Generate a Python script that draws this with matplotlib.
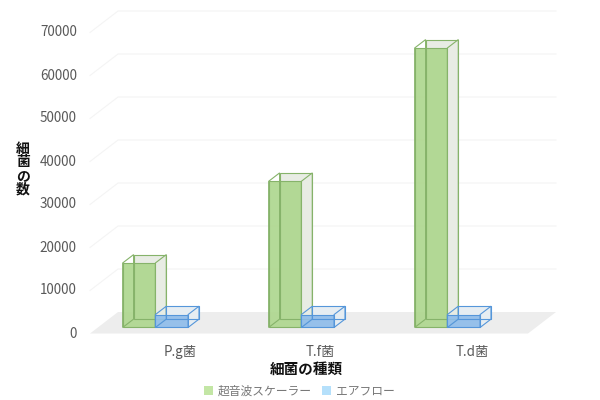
#!/usr/bin/env python3
"""Oblique 3D-look grouped bars: bacteria counts by species"""

import matplotlib
matplotlib.use("Agg")
import matplotlib.pyplot as plt
from matplotlib.patches import Patch, Polygon

plt.rcParams['font.family'] = ['Noto Sans CJK JP', 'DejaVu Sans']

# Data
CATEGORIES = ["P.g菌", "T.f菌", "T.d菌"]
SCALER_VALUES = [15000, 34000, 65000]
AIRFLOW_VALUES = [3000, 3000, 3000]
Y_TICKS = [0, 10000, 20000, 30000, 40000, 50000, 60000, 70000]
SERIES_NAMES = ["超音波スケーラー", "エアフロー"]
X_TITLE = "細菌の種類"
Y_TITLE = "細\n菌\nの\n数"

# Oblique projection: how far one unit of depth moves a point
DEPTH_X = 0.192     # in category units
DEPTH_Y = 5000      # in value units
BAR_Z = (0.28, 0.67)
BAR_START = 0.17
BAR_WIDTH = 0.224
LABEL_POS = [0.62, 1.58, 2.62]

# Colors
GREEN_FRONT = '#aed78f'
GREEN_EDGE = '#86b36a'
GREEN_SIDE = '#e8ece4'
BLUE_FRONT = '#8fbdea'
BLUE_EDGE = '#5596da'
BLUE_SIDE = '#e6edf2'
GRID_COLOR = '#f4f4f4'
FLOOR_COLOR = '#ededed'
TEXT_COLOR = '#595959'


def project(x, value, z):
    return (x + DEPTH_X * z, value + DEPTH_Y * z)


def draw_face(ax, points, face, edge, zorder, alpha=None):
    ax.add_patch(Polygon([project(*p) for p in points], closed=True, facecolor=face,
                         edgecolor=edge, linewidth=0.8, zorder=zorder, alpha=alpha, clip_on=False))


def draw_box(ax, x0, x1, value, front, edge, side, zorder):
    z0, z1 = BAR_Z
    # right and back faces
    draw_face(ax, [(x0, 0, z1), (x1, 0, z1), (x1, value, z1), (x0, value, z1)], side, 'none', zorder)
    draw_face(ax, [(x1, 0, z0), (x1, 0, z1), (x1, value, z1), (x1, value, z0)], side, 'none', zorder)
    # front face, translucent
    draw_face(ax, [(x0, 0, z0), (x1, 0, z0), (x1, value, z0), (x0, value, z0)], front, 'none', zorder + 0.1, 0.92)
    # all edges stay visible through the box
    draw_face(ax, [(x0, 0, z1), (x1, 0, z1), (x1, value, z1), (x0, value, z1)], 'none', edge, zorder + 0.2)
    draw_face(ax, [(x0, 0, z0), (x0, 0, z1), (x0, value, z1), (x0, value, z0)], 'none', edge, zorder + 0.2)
    draw_face(ax, [(x1, 0, z0), (x1, 0, z1), (x1, value, z1), (x1, value, z0)], 'none', edge, zorder + 0.2)
    draw_face(ax, [(x0, 0, z0), (x1, 0, z0), (x1, value, z0), (x0, value, z0)], 'none', edge, zorder + 0.2)


fig = plt.figure(figsize=(6, 4), dpi=100)
ax = fig.add_axes([90 / 600, (400 - 333.5) / 400, 438 / 600, 301 / 400])
ax.set_xlim(0, len(CATEGORIES))
ax.set_ylim(Y_TICKS[0], Y_TICKS[-1])
ax.axis('off')

# Floor
draw_face(ax, [(0, 0, 0), (3, 0, 0), (3, 0, 1), (0, 0, 1)], FLOOR_COLOR, 'none', 1)

# Grid lines run up the left wall and along the back wall
for tick in Y_TICKS:
    xs, ys = zip(project(0, tick, 0), project(0, tick, 1), project(3, tick, 1))
    if tick > 0:
        ax.plot(xs, ys, color=GRID_COLOR, linewidth=0.8, zorder=0.5, clip_on=False)
    ax.text(-0.09, tick, str(tick), ha='right', va='center', fontsize=9.7, color=TEXT_COLOR)

for i, name in enumerate(CATEGORIES):
    g0 = i + BAR_START
    draw_box(ax, g0, g0 + BAR_WIDTH, SCALER_VALUES[i], GREEN_FRONT, GREEN_EDGE, GREEN_SIDE, 3)
    draw_box(ax, g0 + BAR_WIDTH, g0 + 2 * BAR_WIDTH, AIRFLOW_VALUES[i], BLUE_FRONT, BLUE_EDGE, BLUE_SIDE, 4)
    ax.text(LABEL_POS[i], -4200, name, ha='center', va='center', fontsize=9.6, color=TEXT_COLOR)

fig.text(306 / 600, 1 - 369 / 400, X_TITLE, ha='center', va='center', fontsize=10.5, fontweight='bold', color='#111111')
fig.text(23 / 600, 1 - 169 / 400, Y_TITLE, ha='center', va='center', fontsize=10, fontweight='bold',
         color='#111111', linespacing=0.95)

handles = [Patch(facecolor='#c3e6a5', edgecolor='none', label=SERIES_NAMES[0]),
           Patch(facecolor='#b5e0fb', edgecolor='none', label=SERIES_NAMES[1])]
fig.legend(handles=handles, loc='center', bbox_to_anchor=(299 / 600, 1 - 391 / 400), ncol=2, frameon=False,
           fontsize=8.5, labelcolor='#777777', handlelength=0.8, handleheight=0.8, handletextpad=0.35,
           columnspacing=0.9, borderpad=0)

plt.savefig("out.png", dpi=100)
